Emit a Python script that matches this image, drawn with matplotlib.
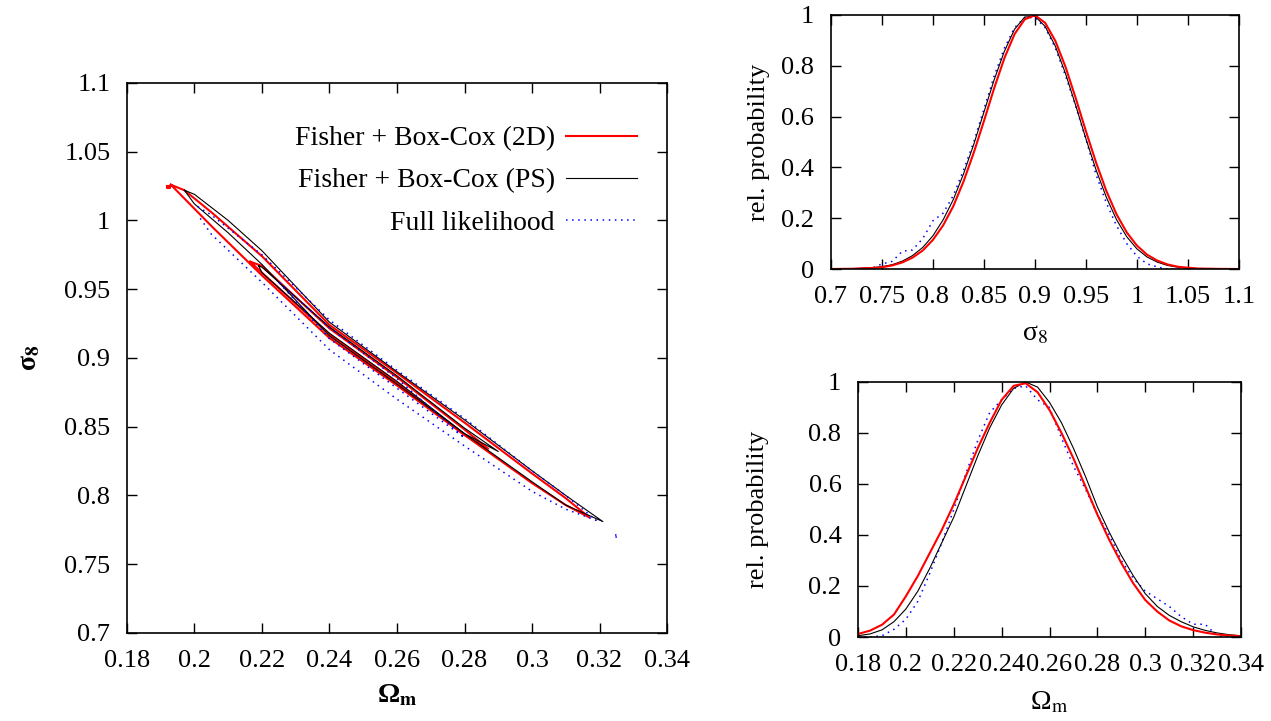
import matplotlib
matplotlib.use("Agg")
import matplotlib.pyplot as plt
import numpy as np

plt.rcParams["font.family"] = "serif"
plt.rcParams["font.serif"] = ["Liberation Serif", "DejaVu Serif"]
plt.rcParams["mathtext.fontset"] = "stix"
plt.rcParams["font.size"] = 19

# 2D contours (Omega_m along the band, upper / lower sigma_8 edges)
red_outer_om = [0.193, 0.197, 0.205, 0.22, 0.24, 0.26, 0.28, 0.30, 0.31, 0.317]
red_outer_hi = [1.026, 1.022, 1.006, 0.974, 0.924, 0.889, 0.853, 0.816, 0.798, 0.784]
red_outer_lo = [1.026, 1.016, 0.996, 0.960, 0.9145, 0.880, 0.844, 0.809, 0.793, 0.784]
red_inner_om = [0.2165, 0.22, 0.24, 0.26, 0.28, 0.287]
red_inner_hi = [0.970, 0.967, 0.9215, 0.886, 0.848, 0.834]
red_inner_lo = [0.970, 0.962, 0.917, 0.882, 0.844, 0.834]
red_blob_om = [0.1918, 0.1928, 0.1928, 0.1918, 0.1918]
red_blob_s8 = [1.0250, 1.0250, 1.0236, 1.0236, 1.0250]

black_outer_om = [0.197, 0.20, 0.21, 0.22, 0.24, 0.26, 0.28, 0.30, 0.31, 0.321]
black_outer_hi = [1.022, 1.019, 1.000, 0.978, 0.926, 0.890, 0.855, 0.818, 0.800, 0.781]
black_outer_lo = [1.022, 1.012, 0.991, 0.968, 0.916, 0.881, 0.845, 0.810, 0.793, 0.781]
black_inner_om = [0.219, 0.22, 0.24, 0.26, 0.28, 0.290]
black_inner_hi = [0.967, 0.966, 0.9225, 0.887, 0.849, 0.832]
black_inner_lo = [0.967, 0.962, 0.918, 0.883, 0.845, 0.832]

blue_outer_om = [0.201, 0.205, 0.22, 0.24, 0.26, 0.28, 0.30, 0.31, 0.319]
blue_outer_hi = [1.010, 1.004, 0.975, 0.9276, 0.891, 0.856, 0.818, 0.800, 0.782]
blue_outer_lo = [1.004, 0.990, 0.955, 0.906, 0.870, 0.836, 0.803, 0.790, 0.782]
blue_inner_om = [0.225, 0.24, 0.26, 0.28]
blue_inner_hi = [0.955, 0.922, 0.885, 0.842]
blue_inner_lo = [0.955, 0.914, 0.878, 0.842]
blue_island_om = [0.3245, 0.3255, 0.3255, 0.3245, 0.3245]
blue_island_s8 = [0.7715, 0.7715, 0.7695, 0.7695, 0.7715]

# 1D marginals: sigma_8
s8_x = [0.70, 0.72, 0.74, 0.75, 0.76, 0.77, 0.78, 0.79, 0.80, 0.81, 0.82, 0.83, 0.84,
        0.85, 0.86, 0.87, 0.88, 0.89, 0.90, 0.91, 0.92, 0.93, 0.94, 0.95, 0.96, 0.97,
        0.98, 0.99, 1.00, 1.01, 1.02, 1.03, 1.04, 1.05, 1.06, 1.08, 1.10]
s8_red = [0.0, 0.001, 0.004, 0.007, 0.014, 0.026, 0.045, 0.073, 0.115, 0.172, 0.248, 0.345,
          0.458, 0.583, 0.712, 0.830, 0.925, 0.983, 0.999, 0.969, 0.898, 0.795, 0.672,
          0.542, 0.418, 0.307, 0.215, 0.144, 0.092, 0.056, 0.033, 0.018, 0.009, 0.005,
          0.002, 0.0005, 0.0]
s8_black = [0.0, 0.001, 0.005, 0.009, 0.017, 0.031, 0.053, 0.085, 0.131, 0.194, 0.274, 0.375,
            0.491, 0.618, 0.745, 0.857, 0.944, 0.992, 0.995, 0.955, 0.877, 0.769, 0.643,
            0.512, 0.389, 0.282, 0.194, 0.127, 0.079, 0.047, 0.027, 0.014, 0.007, 0.003,
            0.001, 0.0003, 0.0]
s8_blue = [0.0, 0.0, 0.003, 0.02, 0.03, 0.07, 0.075, 0.12, 0.19, 0.22, 0.29, 0.39,
           0.50, 0.63, 0.76, 0.87, 0.95, 0.99, 0.99, 0.95, 0.87, 0.76, 0.64,
           0.51, 0.37, 0.26, 0.17, 0.10, 0.05, 0.02, 0.008, 0.0, 0.0, 0.0,
           0.0, 0.0, 0.0]

# 1D marginals: Omega_m
om_x = [0.180, 0.185, 0.190, 0.195, 0.200, 0.205, 0.210, 0.215, 0.220, 0.225, 0.230,
        0.235, 0.240, 0.245, 0.250, 0.255, 0.260, 0.265, 0.270, 0.275, 0.280, 0.285,
        0.290, 0.295, 0.300, 0.305, 0.310, 0.315, 0.320, 0.325, 0.330, 0.335, 0.340]
om_red = [0.012, 0.025, 0.048, 0.088, 0.160, 0.240, 0.330, 0.420, 0.520, 0.630, 0.740,
          0.840, 0.930, 0.985, 0.995, 0.960, 0.890, 0.800, 0.700, 0.590, 0.480, 0.380,
          0.290, 0.210, 0.145, 0.100, 0.065, 0.042, 0.027, 0.017, 0.010, 0.006, 0.003]
om_black = [0.005, 0.012, 0.028, 0.060, 0.110, 0.180, 0.270, 0.370, 0.470, 0.590, 0.710,
            0.820, 0.910, 0.975, 1.000, 0.980, 0.920, 0.840, 0.740, 0.630, 0.510, 0.410,
            0.320, 0.240, 0.170, 0.120, 0.085, 0.060, 0.040, 0.026, 0.016, 0.009, 0.005]
om_blue = [0.0, 0.0, 0.005, 0.030, 0.070, 0.140, 0.250, 0.370, 0.500, 0.640, 0.770,
           0.880, 0.930, 0.975, 0.985, 0.930, 0.900, 0.780, 0.670, 0.580, 0.480, 0.400,
           0.300, 0.230, 0.180, 0.150, 0.120, 0.080, 0.050, 0.050, 0.005, 0.0, 0.0]

RED = "#ff0000"
BLUE = "#0000ff"

fig = plt.figure(figsize=(12.71, 7.21), dpi=100)
ax = fig.add_axes([0.0999, 0.1221, 0.4249, 0.7628])
ax_s8 = fig.add_axes([0.6538, 0.6269, 0.3210, 0.3523])
ax_om = fig.add_axes([0.6751, 0.1165, 0.3013, 0.3537])


def loop(om, hi, lo):
    return np.concatenate([om, om[::-1]]), np.concatenate([hi, lo[::-1]])


styles = {
    "red": dict(color=RED, lw=1.5),
    "black": dict(color="black", lw=0.8),
    "blue": dict(color=BLUE, lw=1.1, ls=(0, (1, 3))),
}

contours = [
    ("red", red_outer_om, red_outer_hi, red_outer_lo, "Fisher + Box-Cox (2D)"),
    ("red", red_inner_om, red_inner_hi, red_inner_lo, None),
    ("black", black_outer_om, black_outer_hi, black_outer_lo, "Fisher + Box-Cox (PS)"),
    ("black", black_inner_om, black_inner_hi, black_inner_lo, None),
    ("blue", blue_outer_om, blue_outer_hi, blue_outer_lo, "Full likelihood"),
    ("blue", blue_inner_om, blue_inner_hi, blue_inner_lo, None),
]
for key, om, hi, lo, lab in contours:
    x, y = loop(np.array(om), np.array(hi), np.array(lo))
    ax.plot(x, y, label=lab, **styles[key])
ax.plot(red_blob_om, red_blob_s8, **styles["red"])
ax.plot(blue_island_om, blue_island_s8, **styles["blue"])

ax.set_xlim(0.18, 0.34)
ax.set_ylim(0.7, 1.1)
ax.set_xticks(np.arange(0.18, 0.3401, 0.02))
ax.set_xticklabels(["0.18", "0.2", "0.22", "0.24", "0.26", "0.28", "0.3", "0.32", "0.34"])
ax.set_yticks(np.arange(0.7, 1.1001, 0.05))
ax.set_yticklabels(["0.7", "0.75", "0.8", "0.85", "0.9", "0.95", "1", "1.05", "1.1"])
ax.set_xlabel("Ω$_\\mathbf{m}$", fontweight="bold", fontsize=20, labelpad=8)
ax.set_ylabel("σ$_\\mathbf{8}$", fontweight="bold", fontsize=20, labelpad=16)
ax.legend(loc="upper right", frameon=False, markerfirst=False, handlelength=2.55,
          handletextpad=0.4, labelspacing=0.6, borderaxespad=0, borderpad=0,
          bbox_to_anchor=(0.944, 0.922), fontsize=20)

ax_s8.plot(s8_x, s8_blue, **styles["blue"])
ax_s8.plot(s8_x, s8_black, **styles["black"])
ax_s8.plot(s8_x, s8_red, **styles["red"])
ax_s8.set_xlim(0.7, 1.1)
ax_s8.set_ylim(0, 1)
ax_s8.set_xticks(np.arange(0.7, 1.1001, 0.05))
ax_s8.set_xticklabels(["0.7", "0.75", "0.8", "0.85", "0.9", "0.95", "1", "1.05", "1.1"])
ax_s8.set_yticks([0, 0.2, 0.4, 0.6, 0.8, 1])
ax_s8.set_yticklabels(["0", "0.2", "0.4", "0.6", "0.8", "1"])
ax_s8.set_xlabel("σ$_8$", fontsize=20, labelpad=10)
ax_s8.set_ylabel("rel. probability", labelpad=8)

ax_om.plot(om_x, om_blue, **styles["blue"])
ax_om.plot(om_x, om_black, **styles["black"])
ax_om.plot(om_x, om_red, **styles["red"])
ax_om.set_xlim(0.18, 0.34)
ax_om.set_ylim(0, 1)
ax_om.set_xticks(np.arange(0.18, 0.3401, 0.02))
ax_om.set_xticklabels(["0.18", "0.2", "0.22", "0.24", "0.26", "0.28", "0.3", "0.32", "0.34"])
ax_om.set_yticks([0, 0.2, 0.4, 0.6, 0.8, 1])
ax_om.set_yticklabels(["0", "0.2", "0.4", "0.6", "0.8", "1"])
ax_om.set_xlabel("Ω$_\\mathrm{m}$", fontsize=20, labelpad=10)
ax_om.set_ylabel("rel. probability", labelpad=28)

for a in (ax, ax_s8, ax_om):
    a.tick_params(direction="in", top=True, right=True, length=7, width=1, pad=12)
    for s in a.spines.values():
        s.set_linewidth(1.2)

fig.savefig("out.png", dpi=100)
